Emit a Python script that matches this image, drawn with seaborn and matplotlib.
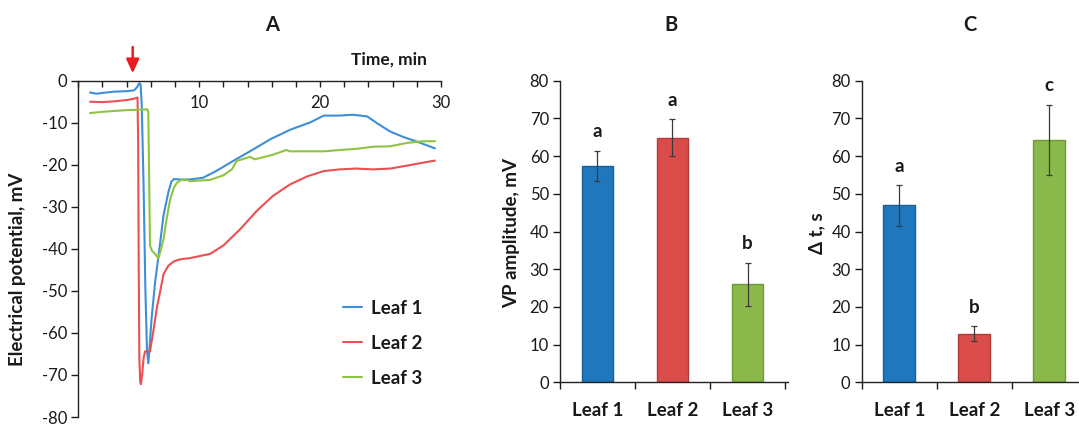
import numpy as np
import pandas as pd
import matplotlib
matplotlib.use("Agg")
import matplotlib.pyplot as plt
import seaborn as sns

# ---------------- data ----------------
leaves = ["Leaf 1", "Leaf 2", "Leaf 3"]

t_leaf1 = [0.97, 1.5, 2.0, 3.0, 4.0, 4.6, 4.85, 5.05, 5.15, 5.25, 5.4, 5.55, 5.68, 5.79, 5.88,
           6.05, 6.35, 6.75, 7.05, 7.45, 7.7, 7.9, 8.4, 9.24, 10.3, 11.4, 12.8, 14.2, 15.9, 17.5,
           19.2, 20.3, 21.6, 22.7, 23.9, 24.7, 25.8, 26.9, 28.3, 29.5]
v_leaf1 = [-2.8, -3.1, -2.9, -2.6, -2.5, -2.3, -1.6, -0.6, -0.9, -6, -25, -50, -64, -67.2, -64,
           -57, -48, -39, -32, -26.5, -24, -23.4, -23.5, -23.5, -23.1, -21.5, -19.1, -16.8, -13.9, -11.7,
           -9.9, -8.3, -8.3, -8.1, -8.5, -10.1, -12.1, -13.4, -14.8, -16.1]

t_leaf2 = [0.97, 2.0, 3.0, 4.0, 4.6, 4.9, 4.95, 5.0, 5.05, 5.12, 5.18, 5.28, 5.4, 5.52, 5.93,
           6.2, 6.5, 6.76, 7.05, 7.45, 7.9, 8.4, 9.24, 10.9, 12.0, 13.4, 14.75, 16.1, 17.5, 18.9,
           20.3, 21.6, 23.0, 24.4, 25.8, 27.2, 28.5, 29.5]
v_leaf2 = [-5.0, -5.1, -4.9, -4.6, -4.3, -4.0, -15, -45, -66, -71.5, -72.2, -70, -66, -64.4, -64.4,
           -59.7, -54, -50.3, -46, -44, -43, -42.5, -42.2, -41.2, -39.2, -35.3, -31.0, -27.4, -24.7, -22.8,
           -21.5, -21.1, -20.9, -21.1, -20.9, -20.2, -19.5, -19.0]

t_leaf3 = [0.97, 2.0, 3.0, 4.0, 5.0, 5.7, 5.79, 5.87, 5.93, 6.1, 6.35, 6.62, 6.8, 7.05, 7.3,
           7.6, 7.9, 8.15, 8.5, 9.0, 9.24, 10.9, 12.0, 12.7, 13.1, 14.2, 14.6, 16.1, 17.2, 17.5,
           20.3, 21.6, 23.0, 24.4, 25.8, 27.2, 28.5, 29.5]
v_leaf3 = [-7.7, -7.4, -7.2, -7.0, -6.9, -6.8, -7.5, -25, -39.2, -40.5, -41.2, -42.2, -40.5, -37.7, -33,
           -28.2, -25.5, -24.3, -23.6, -23.6, -23.9, -23.6, -22.5, -21.1, -19.1, -18.1, -18.7, -17.6, -16.5, -16.8,
           -16.8, -16.5, -16.2, -15.7, -15.6, -14.8, -14.4, -14.4]

stimulus_time = 4.5  # red arrow

vp_amplitude = [57.4, 64.9, 26.0]
vp_err = [4.0, 4.9, 5.7]
vp_letters = ["a", "a", "b"]

delta_t = [46.9, 12.9, 64.3]
delta_t_err = [5.4, 2.0, 9.3]
delta_t_letters = ["a", "b", "c"]

x_ticks_A = list(range(0, 31, 2))
x_ticklabels_A = ["" if (v % 10 or v == 0) else str(v) for v in x_ticks_A]
y_ticks_A = list(range(-80, 1, 10))
y_ticks_bar = list(range(0, 81, 10))

# ---------------- style ----------------
sns.set_theme(style="white")
plt.rcParams["font.family"] = ["Lato", "DejaVu Sans"]
plt.rcParams["axes.unicode_minus"] = False
TXT = "#1a1a1a"
plt.rcParams["text.color"] = TXT
plt.rcParams["axes.labelcolor"] = TXT
plt.rcParams["xtick.color"] = TXT
plt.rcParams["ytick.color"] = TXT
plt.rcParams["axes.edgecolor"] = "#222222"

line_colors = ["#3c8fd6", "#eb5050", "#8dc441"]
bar_colors = ["#1f78be", "#d94c4a", "#8ab84a"]
bar_edges = ["#17609a", "#b23b39", "#6f9a38"]
TICK_FS = 12

W, H = 1079, 425
fig = plt.figure(figsize=(W / 100, H / 100), dpi=100)


def fx(px):
    return px / W


def fy(py):
    return 1 - py / H


# ---------------- Panel A ----------------
axA_l, axA_r, axA_t, axA_b = 78.3, 441, 80.7, 417
axA = fig.add_axes([fx(axA_l), fy(axA_b), (axA_r - axA_l) / W, (axA_b - axA_t) / H])

dfA = pd.concat([
    pd.DataFrame({"time": t_leaf1, "ep": v_leaf1, "leaf": leaves[0]}),
    pd.DataFrame({"time": t_leaf2, "ep": v_leaf2, "leaf": leaves[1]}),
    pd.DataFrame({"time": t_leaf3, "ep": v_leaf3, "leaf": leaves[2]}),
])
sns.lineplot(data=dfA, x="time", y="ep", hue="leaf", palette=line_colors,
             estimator=None, sort=False, linewidth=1.5, ax=axA)

axA.set_xlim(0, 30)
axA.set_ylim(-80, 0)
for s in ["right", "bottom"]:
    axA.spines[s].set_visible(False)
for s in ["left", "top"]:
    axA.spines[s].set_linewidth(1.0)
axA.xaxis.set_ticks_position("top")
axA.set_xticks(x_ticks_A)
axA.set_xticklabels(x_ticklabels_A)
axA.tick_params(axis="x", direction="in", length=4, width=1, top=True, bottom=False,
                labeltop=True, labelbottom=False, pad=-22, labelsize=TICK_FS)
axA.set_yticks(y_ticks_A)
axA.tick_params(axis="y", direction="out", length=5, width=1, left=True, labelsize=TICK_FS, pad=3)
axA.xaxis.set_label_position("top")
axA.set_xlabel("Time, min", fontsize=12.5, fontweight="bold", ha="right", va="center")
axA.xaxis.set_label_coords((427 - axA_l) / (axA_r - axA_l), 1 + (axA_t - 60) / (axA_b - axA_t))
axA.set_ylabel("Electrical potential, mV", fontsize=13.5, fontweight="bold")
axA.yaxis.label.set_va("center")
axA.yaxis.set_label_coords((18 - axA_l) / (axA_r - axA_l), 1 - (269 - axA_t) / (axA_b - axA_t))

handles, labels = axA.get_legend_handles_labels()
axA.legend(handles, labels, loc="upper left",
           bbox_to_anchor=((342.7 - axA_l) / (axA_r - axA_l), 1 - (300 - axA_t) / (axA_b - axA_t)),
           frameon=False, borderpad=0, borderaxespad=0, handlelength=1.05, handletextpad=0.45,
           labelspacing=0.95, prop={"size": 13.5, "weight": "bold"})

axA.annotate("", xy=(stimulus_time, 1.022), xytext=(stimulus_time, 1.10),
             xycoords=("data", "axes fraction"), textcoords=("data", "axes fraction"),
             arrowprops=dict(arrowstyle="-|>,head_length=0.7,head_width=0.32", color="#ee1c1c",
                             lw=1.8, shrinkA=0, shrinkB=0),
             annotation_clip=False)

fig.text(fx(272), fy(25), "A", ha="center", va="center", fontsize=14.5, fontweight="bold")


# ---------------- Bar panels ----------------
def bar_panel(left_px, values, errs, letters, ylabel, ylabel_x_px, title, title_x_px):
    top_px, bottom_px = 80.7, 382.3
    width_px = 228
    ax = fig.add_axes([fx(left_px), fy(bottom_px), width_px / W, (bottom_px - top_px) / H])
    sns.barplot(x=leaves, y=values, hue=leaves, palette=bar_colors, width=0.42,
                errorbar=None, legend=False, ax=ax, saturation=1)
    for patch, ec in zip(ax.patches, bar_edges):
        patch.set_edgecolor(ec)
        patch.set_linewidth(1.0)
    ax.errorbar(x=np.arange(len(leaves)), y=values, yerr=errs, fmt="none",
                ecolor="#3a3a3a", elinewidth=0.9, capsize=2.2, capthick=0.9)
    for i, (v, e, letter) in enumerate(zip(values, errs, letters)):
        ax.text(i, v + e + 5.0, letter, ha="center", va="center", fontsize=13.5, fontweight="bold")
    ax.set_ylim(0, 80)
    ax.set_xlim(-0.5, 2.54)
    ax.set_yticks(y_ticks_bar)
    ax.tick_params(axis="y", direction="out", length=5, width=1, left=True, labelsize=TICK_FS, pad=3)
    ax.set_xticks([-0.5, 0.5, 1.5, 2.5])
    ax.set_xticklabels([])
    ax.tick_params(axis="x", which="major", direction="out", length=5, width=1, bottom=True)
    ax.set_xticks([0, 1, 2], minor=True)
    ax.set_xticklabels(leaves, minor=True, fontsize=13.5, fontweight="bold")
    ax.tick_params(axis="x", which="minor", length=0, pad=14)
    ax.set_xlabel("")
    for s in ["right", "top"]:
        ax.spines[s].set_visible(False)
    for s in ["left", "bottom"]:
        ax.spines[s].set_linewidth(1.0)
    ax.set_ylabel(ylabel, fontsize=13.5, fontweight="bold")
    ax.yaxis.label.set_va("center")
    ax.yaxis.set_label_coords((ylabel_x_px - left_px) / width_px, 1 - (233 - top_px) / (bottom_px - top_px))
    fig.text(fx(title_x_px), fy(25), title, ha="center", va="center", fontsize=14.5, fontweight="bold")
    return ax


bar_panel(560, vp_amplitude, vp_err, vp_letters, "VP amplitude, mV", 511.7, "B", 671.5)
bar_panel(861.7, delta_t, delta_t_err, delta_t_letters, "\u0394 t, s", 816.7, "C", 970)

fig.savefig("out.png", dpi=100)
